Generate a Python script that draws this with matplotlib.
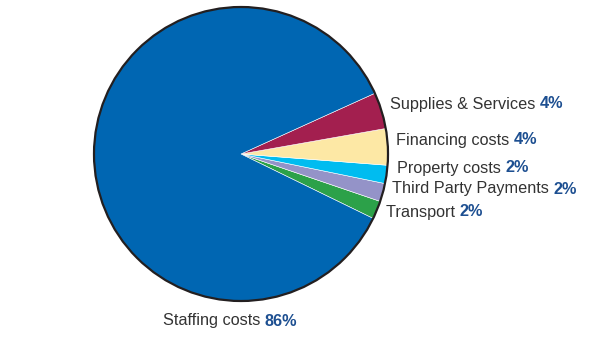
import matplotlib
matplotlib.use("Agg")
import matplotlib.pyplot as plt
from matplotlib.patches import Circle

categories = ["Transport", "Third Party Payments", "Property costs",
              "Financing costs", "Supplies & Services", "Staffing costs"]
values = [2, 2, 2, 4, 4, 86]
pct_labels = ["2%", "2%", "2%", "4%", "4%", "86%"]
colors = ["#2ca149", "#9493c8", "#00bcf0", "#fde8a5", "#a31f4f", "#0066b2"]

fam = "Liberation Sans"

W, H = 597, 338
fig = plt.figure(figsize=(W / 100, H / 100), dpi=100)
cx, cy, R = 241, 154, 147
pad = 1.03
ax = fig.add_axes([(cx - R * pad) / W, (H - cy - R * pad) / H, 2 * R * pad / W, 2 * R * pad / H])
ax.pie(values, colors=colors, startangle=-26, counterclock=True, radius=1,
       wedgeprops=dict(edgecolor="white", linewidth=0.4))
ax.add_patch(Circle((0, 0), 1, fill=False, edgecolor="#231f20", linewidth=1.6, zorder=5))
ax.set_aspect("equal")
ax.axis("off")
ax.set_xlim(-pad, pad)
ax.set_ylim(-pad, pad)

# label anchor positions in pixels (left, vertical centre)
label_pos = {
    "Supplies & Services": (390, 104),
    "Financing costs": (396, 140),
    "Property costs": (397, 168),
    "Third Party Payments": (392, 189),
    "Transport": (386, 212),
    "Staffing costs": (163, 321),
}

fig.canvas.draw()
renderer = fig.canvas.get_renderer()
fs = 11.7
for name, pct in zip(categories, pct_labels):
    px, py = label_pos[name]
    t = fig.text(px / W, 1 - py / H, name + " ", family=fam, fontsize=fs,
                 color="#333333", ha="left", va="center")
    bb = t.get_window_extent(renderer=renderer)
    fig.text(bb.x1 / W, 1 - py / H, pct, family=fam, fontsize=fs,
             fontweight="bold", color="#1d4f91", ha="left", va="center")

fig.savefig("out.png", dpi=100)
